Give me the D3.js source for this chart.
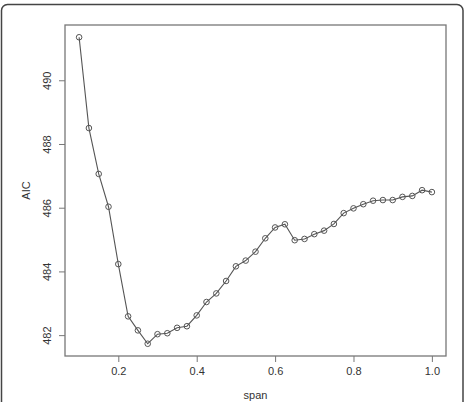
<!DOCTYPE html>
<html>
<head>
<meta charset="utf-8">
<script src="https://cdn.jsdelivr.net/npm/d3@7"></script>
<style>
  html, body { margin: 0; padding: 0; background: #fff; }
  svg { display: block; }
  text { font-family: "Liberation Sans", Arial, sans-serif; fill: #333; }
</style>
</head>
<body>
<svg id="chart" width="465" height="402"></svg>
<script>
const spans = [0.1, 0.125, 0.15, 0.175, 0.2, 0.225, 0.25, 0.275, 0.3, 0.325, 0.35, 0.375,
  0.4, 0.425, 0.45, 0.475, 0.5, 0.525, 0.55, 0.575, 0.6, 0.625, 0.65, 0.675, 0.7, 0.725,
  0.75, 0.775, 0.8, 0.825, 0.85, 0.875, 0.9, 0.925, 0.95, 0.975, 1.0];
const aicValues = [491.35, 488.50, 487.06, 486.03, 484.23, 482.59, 482.15, 481.73, 482.03, 482.06,
  482.23, 482.28, 482.62, 483.04, 483.31, 483.70, 484.16, 484.34, 484.62, 485.04, 485.38,
  485.48, 484.98, 485.02, 485.17, 485.28, 485.49, 485.83, 485.98, 486.11, 486.22, 486.24,
  486.24, 486.34, 486.37, 486.55, 486.49];
const xTicks = [0.2, 0.4, 0.6, 0.8, 1.0];
const yTicks = [482, 484, 486, 488, 490];
const xLabel = "span";
const yLabel = "AIC";

const svg = d3.select("#chart");
const plot = { left: 65, top: 25, right: 446, bottom: 356 };

// outer rounded frame
svg.append("rect")
  .attr("x", 1.5).attr("y", 4.5).attr("width", 461.5).attr("height", 420)
  .attr("rx", 6).attr("ry", 6)
  .attr("fill", "none").attr("stroke", "#444").attr("stroke-width", 1.5);

function padExtent(ext) {
  const d = (ext[1] - ext[0]) * 0.04;
  return [ext[0] - d, ext[1] + d];
}
const x = d3.scaleLinear().domain(padExtent(d3.extent(spans))).range([plot.left, plot.right]);
const y = d3.scaleLinear().domain(padExtent(d3.extent(aicValues))).range([plot.bottom, plot.top]);

// plot box
svg.append("rect")
  .attr("x", plot.left).attr("y", plot.top)
  .attr("width", plot.right - plot.left).attr("height", plot.bottom - plot.top)
  .attr("fill", "none").attr("stroke", "#777").attr("stroke-width", 1.3);

// x axis
const xAxis = svg.append("g")
  .attr("transform", `translate(0,${plot.bottom})`)
  .call(d3.axisBottom(x).tickValues(xTicks).tickFormat(d3.format(".1f")).tickSize(6).tickPadding(5));
xAxis.select(".domain").remove();
xAxis.selectAll("line").attr("stroke", "#777");
xAxis.selectAll("text").attr("font-size", 11).style("fill", "#333")
  .style("font-family", "Liberation Sans, Arial, sans-serif");

// y axis
const yAxis = svg.append("g")
  .attr("transform", `translate(${plot.left},0)`)
  .call(d3.axisLeft(y).tickValues(yTicks).tickFormat(d3.format("d")).tickSize(6));
yAxis.select(".domain").remove();
yAxis.selectAll("line").attr("stroke", "#777");
yAxis.selectAll("text")
  .attr("x", null).attr("dy", null)
  .attr("transform", "translate(-14,0) rotate(-90)")
  .attr("text-anchor", "middle")
  .attr("font-size", 11).style("fill", "#333")
  .style("font-family", "Liberation Sans, Arial, sans-serif");

// axis titles
svg.append("text")
  .attr("x", (plot.left + plot.right) / 2).attr("y", 399)
  .attr("text-anchor", "middle").attr("font-size", 11).text(xLabel);
svg.append("text")
  .attr("transform", `translate(30,${(plot.top + plot.bottom) / 2}) rotate(-90)`)
  .attr("text-anchor", "middle").attr("font-size", 11).text(yLabel);

// line + points
const data = spans.map((s, i) => ({ s, v: aicValues[i] }));
svg.append("path")
  .datum(data)
  .attr("fill", "none").attr("stroke", "#555").attr("stroke-width", 1.1)
  .attr("d", d3.line().x(d => x(d.s)).y(d => y(d.v)));
svg.append("g").selectAll("circle")
  .data(data).join("circle")
  .attr("cx", d => x(d.s)).attr("cy", d => y(d.v)).attr("r", 2.8)
  .attr("fill", "none").attr("stroke", "#555").attr("stroke-width", 1);
</script>
</body>
</html>
